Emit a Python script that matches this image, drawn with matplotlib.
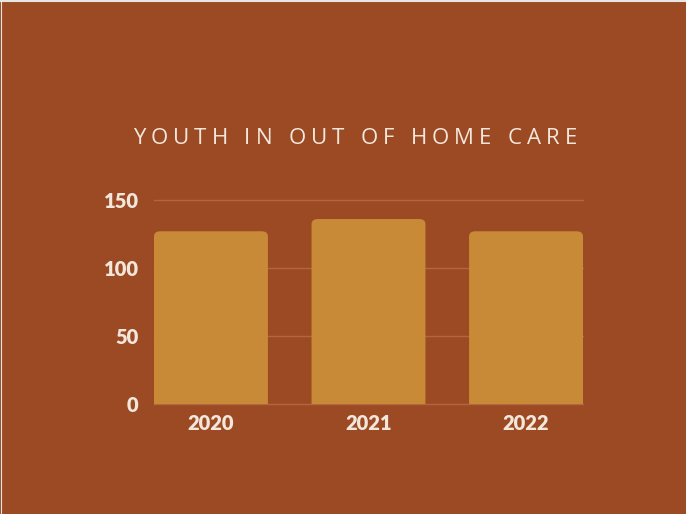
import matplotlib

matplotlib.use("Agg")

import matplotlib.pyplot as plt
from matplotlib.patches import FancyBboxPatch


YEARS = ["2020", "2021", "2022"]
YOUTH_COUNTS = [127, 136, 127]
Y_TICKS = [0, 50, 100, 150]
TITLE = "YOUTH IN OUT OF HOME CARE"

BACKGROUND = "#9B4A24"
BAR_COLOR = "#C98A37"
GRID_COLOR = "#B16640"
TEXT_COLOR = "#F3E7DC"

W, H = 686, 514


def round_bar_tops(ax, bars):

    # swap each plain rectangle for one with rounded corners; the bottom
    # corners sit below zero so the axes clip them away
    for rect in bars:

        x = rect.get_x()
        w = rect.get_width()
        h = rect.get_height()

        patch = FancyBboxPatch(
            (x, -8),
            w,
            h + 8,
            boxstyle="round,pad=0,rounding_size=0.04",
            mutation_aspect=95,
            facecolor=BAR_COLOR,
            edgecolor="none",
            zorder=3
        )

        ax.add_patch(patch)

        rect.set_visible(False)


def draw_tracked_title(fig, text, center_x, baseline_y, total_width, size):

    # matplotlib has no letter spacing, so lay the letters out one by one
    renderer = fig.canvas.get_renderer()

    letters = []

    for ch in text:

        t = fig.text(
            0, baseline_y / H, ch,
            fontsize=size,
            family="Open Sans",
            color=TEXT_COLOR,
            va="baseline",
            ha="left"
        )

        letters.append(t)

    widths = []

    for t, ch in zip(letters, text):

        if ch == " ":
            ref = fig.text(0, 0, "n", fontsize=size, family="Open Sans")
            widths.append(ref.get_window_extent(renderer).width * 0.45)
            ref.remove()
        else:
            widths.append(t.get_window_extent(renderer).width)

    tracking = (total_width - sum(widths)) / (len(text) - 1)

    x = center_x - total_width / 2

    for t, w in zip(letters, widths):

        t.set_x(x / W)

        x += w + tracking


def main():

    fig = plt.figure(figsize=(W / 100, H / 100), dpi=100)

    fig.patch.set_facecolor(BACKGROUND)

    ax = fig.add_axes([
        154 / W,
        (H - 404) / H,
        (583 - 154) / W,
        (404 - 200) / H
    ])

    ax.set_facecolor(BACKGROUND)

    positions = range(len(YEARS))

    bars = ax.bar(
        positions,
        YOUTH_COUNTS,
        width=0.723,
        color=BAR_COLOR,
        zorder=3
    )

    round_bar_tops(ax, bars)

    ax.set_xlim(-0.3615, 2.3615)
    ax.set_ylim(0, 150)

    ax.set_yticks(Y_TICKS)
    ax.set_xticks(list(positions))
    ax.set_xticklabels(YEARS)

    for y in Y_TICKS:
        ax.axhline(y, color=GRID_COLOR, linewidth=1.0, zorder=1, clip_on=False)

    for spine in ax.spines.values():
        spine.set_visible(False)

    ax.tick_params(
        axis="both",
        length=0,
        colors=TEXT_COLOR,
        labelsize=14.5
    )

    ax.tick_params(axis="y", pad=11)
    ax.tick_params(axis="x", pad=7)

    for label in ax.get_xticklabels() + ax.get_yticklabels():
        label.set_fontweight("heavy")
        label.set_family("Lato")

    draw_tracked_title(fig, TITLE, 355, H - 143.5, 444, 16)

    # thin light frame along the top and left edges
    fig.add_artist(plt.Line2D([0, 1], [1 - 1 / H, 1 - 1 / H], color="#E6E6E6", linewidth=1.5))
    fig.add_artist(plt.Line2D([0.5 / W, 0.5 / W], [0, 1], color="#E6E6E6", linewidth=0.8))

    fig.savefig("out.png", dpi=100, facecolor=BACKGROUND)

    plt.close(fig)


if __name__ == "__main__":
    main()
